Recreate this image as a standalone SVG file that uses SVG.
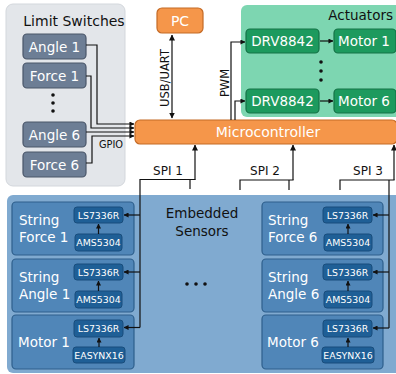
<svg xmlns="http://www.w3.org/2000/svg" width="396" height="374" viewBox="0 0 396 374">
<defs>
<marker id="ah" markerUnits="userSpaceOnUse" markerWidth="6" markerHeight="6" viewBox="0 0 6 6" refX="5.5" refY="3" orient="auto-start-reverse">
<path d="M0,0 L6,3 L0,6 z" fill="#111"/>
</marker>
<marker id="sm" markerUnits="userSpaceOnUse" markerWidth="5" markerHeight="5" viewBox="0 0 6 6" refX="5.5" refY="3" orient="auto">
<path d="M0,0 L6,3 L0,6 z" fill="#111"/>
</marker>
</defs>
<style>
text{font-family:"DejaVu Sans","Verdana",sans-serif;}
.w{fill:#fff;}
.k{fill:#111;}
.ls{fill:#6d7e95;stroke:#4a5669;stroke-width:1.2;}
.or{fill:#f5964a;stroke:#c46a25;stroke-width:1.2;}
.gr{fill:#1d9a5e;stroke:#147246;stroke-width:1.2;}
.sg{fill:#5086b8;stroke:#2e5f8c;stroke-width:1.2;}
.ch{fill:#1f5f96;stroke:#194d7c;stroke-width:1;}
.c{fill:none;stroke:#111;stroke-width:1.2;}
.lbl{font-size:13.5px;}
.chip{font-size:9.4px;}
</style>

<!-- panels -->
<g id="limit-switches">
<rect x="6" y="4" width="119" height="182" rx="7" fill="#e3e6ea" stroke="#d3d7dc"/>
<text x="74" y="26" text-anchor="middle" font-size="14" class="k">Limit Switches</text>
</g>
<g id="actuators">
<rect x="241" y="5" width="160" height="112" rx="6" fill="#7dd6b1"/>
<text x="393" y="20" text-anchor="end" font-size="13.5" class="k">Actuators</text>
</g>
<g id="embedded-sensors">
<rect x="7" y="195" width="394" height="178" rx="6" fill="#80aad0"/>
<text x="202" y="218" text-anchor="middle" font-size="13.5" class="k">Embedded</text>
<text x="202" y="236" text-anchor="middle" font-size="13.5" class="k">Sensors</text>
<circle cx="187" cy="284" r="1.8" fill="#111"/>
<circle cx="196" cy="284" r="1.8" fill="#111"/>
<circle cx="205" cy="284" r="1.8" fill="#111"/>
</g>

<!-- limit switch nodes -->
<g id="angle1"><rect class="ls" x="23" y="34" width="63" height="25" rx="4"/><text class="w lbl" x="54.5" y="51.5" text-anchor="middle">Angle 1</text></g>
<g id="force1"><rect class="ls" x="23" y="63" width="63" height="25" rx="4"/><text class="w lbl" x="54.5" y="80.5" text-anchor="middle">Force 1</text></g>
<g id="ls-dots"><circle cx="53" cy="95" r="1.8" fill="#111"/><circle cx="53" cy="103" r="1.8" fill="#111"/><circle cx="53" cy="111" r="1.8" fill="#111"/></g>
<g id="angle6"><rect class="ls" x="23" y="122" width="63" height="25" rx="4"/><text class="w lbl" x="54.5" y="139.5" text-anchor="middle">Angle 6</text></g>
<g id="force6"><rect class="ls" x="23" y="152" width="63" height="25" rx="4"/><text class="w lbl" x="54.5" y="169.5" text-anchor="middle">Force 6</text></g>

<!-- PC / MCU -->
<g id="pc"><rect class="or" x="157" y="8" width="46" height="25" rx="5"/><text class="w" x="180" y="26" text-anchor="middle" font-size="14">PC</text></g>
<g id="microcontroller"><rect class="or" x="135" y="120" width="262" height="24" rx="5"/><text class="w" x="268" y="137" text-anchor="middle" font-size="14">Microcontroller</text></g>

<!-- actuators nodes -->
<g id="drv1"><rect class="gr" x="246" y="29" width="73" height="24" rx="4"/><text class="w lbl" x="282.5" y="46" text-anchor="middle">DRV8842</text></g>
<g id="motor1"><rect class="gr" x="334" y="29" width="62" height="24" rx="4"/><text class="w lbl" x="364" y="46" text-anchor="middle">Motor 1</text></g>
<g id="act-dots"><circle cx="321" cy="62" r="1.8" fill="#111"/><circle cx="321" cy="71" r="1.8" fill="#111"/><circle cx="321" cy="80" r="1.8" fill="#111"/></g>
<g id="drv6"><rect class="gr" x="246" y="89" width="73" height="24" rx="4"/><text class="w lbl" x="282.5" y="106" text-anchor="middle">DRV8842</text></g>
<g id="motor6"><rect class="gr" x="334" y="89" width="62" height="24" rx="4"/><text class="w lbl" x="364" y="106" text-anchor="middle">Motor 6</text></g>

<!-- sensor groups left -->
<g id="string-force-1">
<rect class="sg" x="12" y="202" width="122" height="53" rx="4"/>
<text class="w lbl" x="19" y="225">String</text><text class="w lbl" x="19" y="242">Force 1</text>
<rect class="ch" x="74" y="207" width="49" height="16" rx="3"/><text class="w chip" x="98.5" y="218.5" text-anchor="middle">LS7336R</text>
<rect class="ch" x="75" y="234" width="47" height="17" rx="3"/><text class="w chip" x="98.5" y="246" text-anchor="middle">AMS5304</text>
</g>
<g id="string-angle-1">
<rect class="sg" x="12" y="259" width="122" height="53" rx="4"/>
<text class="w lbl" x="19" y="282">String</text><text class="w lbl" x="19" y="299">Angle 1</text>
<rect class="ch" x="74" y="264" width="49" height="16" rx="3"/><text class="w chip" x="98.5" y="275.5" text-anchor="middle">LS7336R</text>
<rect class="ch" x="75" y="291" width="47" height="17" rx="3"/><text class="w chip" x="98.5" y="303" text-anchor="middle">AMS5304</text>
</g>
<g id="motor-1-sensor">
<rect class="sg" x="12" y="315" width="122" height="54" rx="4"/>
<text class="w lbl" x="18" y="347">Motor 1</text>
<rect class="ch" x="74" y="320" width="49" height="17" rx="3"/><text class="w chip" x="98.5" y="332" text-anchor="middle">LS7336R</text>
<rect class="ch" x="73" y="347" width="52" height="16" rx="3"/><text class="w chip" x="99" y="358.5" text-anchor="middle">EASYNX16</text>
</g>

<!-- sensor groups right -->
<g id="string-force-6">
<rect class="sg" x="262" y="202" width="121" height="53" rx="4"/>
<text class="w lbl" x="268" y="225">String</text><text class="w lbl" x="268" y="242">Force 6</text>
<rect class="ch" x="323" y="207" width="49" height="16" rx="3"/><text class="w chip" x="347.5" y="218.5" text-anchor="middle">LS7336R</text>
<rect class="ch" x="324" y="234" width="48" height="17" rx="3"/><text class="w chip" x="348" y="246" text-anchor="middle">AMS5304</text>
</g>
<g id="string-angle-6">
<rect class="sg" x="262" y="259" width="121" height="53" rx="4"/>
<text class="w lbl" x="268" y="282">String</text><text class="w lbl" x="268" y="299">Angle 6</text>
<rect class="ch" x="323" y="264" width="49" height="16" rx="3"/><text class="w chip" x="347.5" y="275.5" text-anchor="middle">LS7336R</text>
<rect class="ch" x="324" y="291" width="48" height="17" rx="3"/><text class="w chip" x="348" y="303" text-anchor="middle">AMS5304</text>
</g>
<g id="motor-6-sensor">
<rect class="sg" x="262" y="315" width="121" height="54" rx="4"/>
<text class="w lbl" x="267" y="347">Motor 6</text>
<rect class="ch" x="323" y="320" width="49" height="17" rx="3"/><text class="w chip" x="347.5" y="332" text-anchor="middle">LS7336R</text>
<rect class="ch" x="322" y="347" width="52" height="16" rx="3"/><text class="w chip" x="348" y="358.5" text-anchor="middle">EASYNX16</text>
</g>

<!-- connectors -->
<g id="connectors">
<path class="c" d="M86,45 H97 V124 H134" marker-end="url(#sm)"/>
<path class="c" d="M86,76 H91 V128 H134" marker-end="url(#sm)"/>
<path class="c" d="M86,132 H134" marker-end="url(#sm)"/>
<path class="c" d="M86,163 H92 V136 H134" marker-end="url(#sm)"/>
<text x="111" y="148" text-anchor="middle" font-size="9.8" class="k">GPIO</text>

<path class="c" d="M172,35 V118" marker-start="url(#ah)" marker-end="url(#ah)"/>
<text transform="translate(169,78) rotate(-90)" text-anchor="middle" font-size="11.5" class="k">USB/UART</text>

<path class="c" d="M231,120 V42 H245" marker-end="url(#sm)"/>
<path class="c" d="M235,120 V101 H245" marker-end="url(#sm)"/>
<text transform="translate(229,83) rotate(-90)" text-anchor="middle" font-size="11.5" class="k">PWM</text>

<path class="c" d="M320,41 H333" marker-end="url(#sm)"/>
<path class="c" d="M320,101 H333" marker-end="url(#sm)"/>

<path class="c" d="M195,179.5 V145" marker-end="url(#ah)"/>
<path class="c" d="M140,327.5 V179.5 H195.6"/>
<path class="c" d="M190,180 V189"/>
<text x="168" y="175" text-anchor="middle" font-size="12" class="k">SPI 1</text>

<path class="c" d="M293,180 V145" marker-end="url(#ah)"/>
<path class="c" d="M240,190 V180 H293.6"/>
<path class="c" d="M289,180 V190"/>
<text x="265" y="175" text-anchor="middle" font-size="12" class="k">SPI 2</text>

<path class="c" d="M394,180 V145" marker-end="url(#ah)"/>
<path class="c" d="M340,190 V180 H394.6"/>
<path class="c" d="M389,180 V328"/>
<text x="368" y="175" text-anchor="middle" font-size="12" class="k">SPI 3</text>

<path class="c" d="M140,215 H124" marker-end="url(#sm)"/>
<path class="c" d="M140,272 H124" marker-end="url(#sm)"/>
<path class="c" d="M140,327.5 H124" marker-end="url(#sm)"/>
<path class="c" d="M389,215 H373" marker-end="url(#sm)"/>
<path class="c" d="M389,272 H373" marker-end="url(#sm)"/>
<path class="c" d="M389,328 H373" marker-end="url(#sm)"/>

<path class="c" d="M98.5,234 V224" marker-end="url(#sm)"/>
<path class="c" d="M98.5,291 V281" marker-end="url(#sm)"/>
<path class="c" d="M99,347 V338" marker-end="url(#sm)"/>
<path class="c" d="M348,234 V224" marker-end="url(#sm)"/>
<path class="c" d="M348,291 V281" marker-end="url(#sm)"/>
<path class="c" d="M348,347 V338" marker-end="url(#sm)"/>
</g>
</svg>
